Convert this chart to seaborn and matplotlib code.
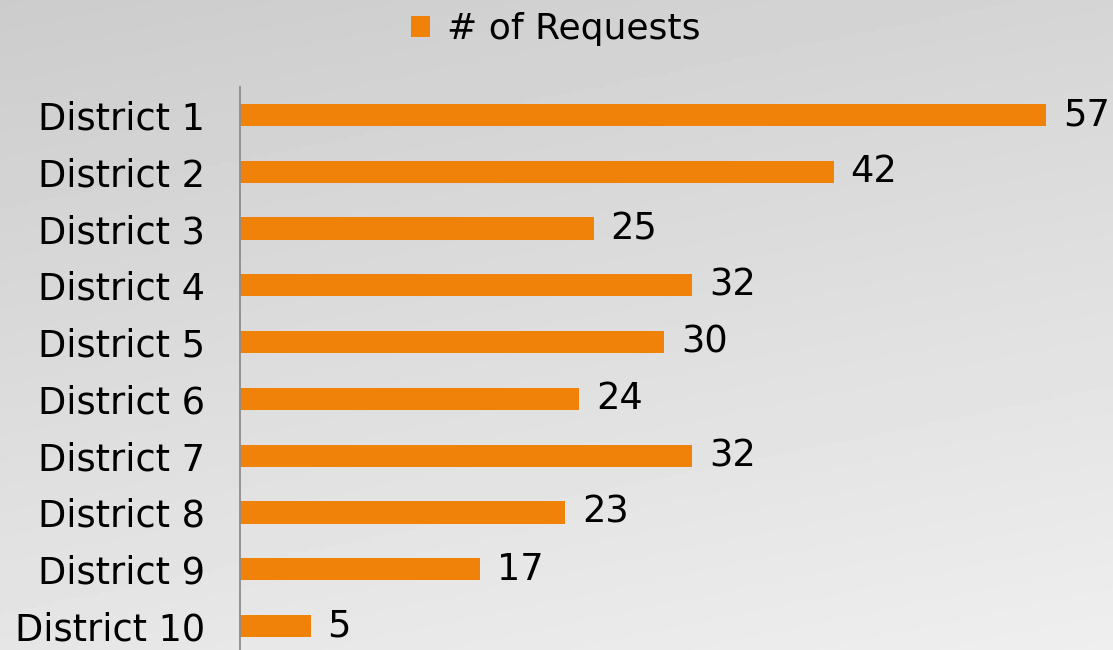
import numpy as np
import pandas as pd
import matplotlib
matplotlib.use("Agg")
import matplotlib.pyplot as plt
import seaborn as sns
from matplotlib.patches import Patch

districts = ["District 1", "District 2", "District 3", "District 4", "District 5",
             "District 6", "District 7", "District 8", "District 9", "District 10"]
requests = [57, 42, 25, 32, 30, 24, 32, 23, 17, 5]
series_name = "# of Requests"

ORANGE = "#F0820A"

sns.set_theme(style="white")
plt.rcParams["font.family"] = ["DejaVu Sans"]

fig = plt.figure(figsize=(11.13, 6.5), dpi=100)

# background gradient
bg = fig.add_axes([0, 0, 1, 1], zorder=-10)
yy, xx = np.mgrid[0:1:200j, 0:1:300j]
grad = 0.80 + 0.10 * yy + 0.035 * xx
bg.imshow(grad, cmap="gray", vmin=0, vmax=1, aspect="auto", extent=[0, 1, 1, 0])
bg.set_axis_off()

W, H = 1113, 650
left = 240 / W
width = 848.4 / W
top_px, bot_px = 86.6, 654.4
ax = fig.add_axes([left, (H - bot_px) / H, width, (bot_px - top_px) / H])
ax.patch.set_alpha(0)

df = pd.DataFrame({"District": districts, "Requests": requests})
sns.barplot(data=df, y="District", x="Requests", color=ORANGE, width=0.39,
            saturation=1, ax=ax, orient="h", linewidth=0, edgecolor="none")
ax.set_xlim(0, 60)
ax.set_ylim(9.5, -0.5)
ax.set_xlabel("")
ax.set_ylabel("")
ax.set_xticks([])
ax.tick_params(axis="y", length=0, pad=25, labelsize=26.5, labelcolor="black")
for s in ["top", "right", "bottom"]:
    ax.spines[s].set_visible(False)
ax.spines["left"].set_color("#8c8c8c")
ax.spines["left"].set_linewidth(1.3)

for c in ax.containers:
    ax.bar_label(c, labels=[str(v) for v in requests], padding=12,
                 fontsize=26.5, color="black")

handle = Patch(facecolor=ORANGE, edgecolor="none")
fig.legend([handle], [series_name], loc="center", bbox_to_anchor=(0.499, 0.955),
           frameon=False, fontsize=26, handlelength=0.55, handleheight=0.55,
           handletextpad=0.45, labelcolor="black")

fig.savefig("out.png", dpi=100)
